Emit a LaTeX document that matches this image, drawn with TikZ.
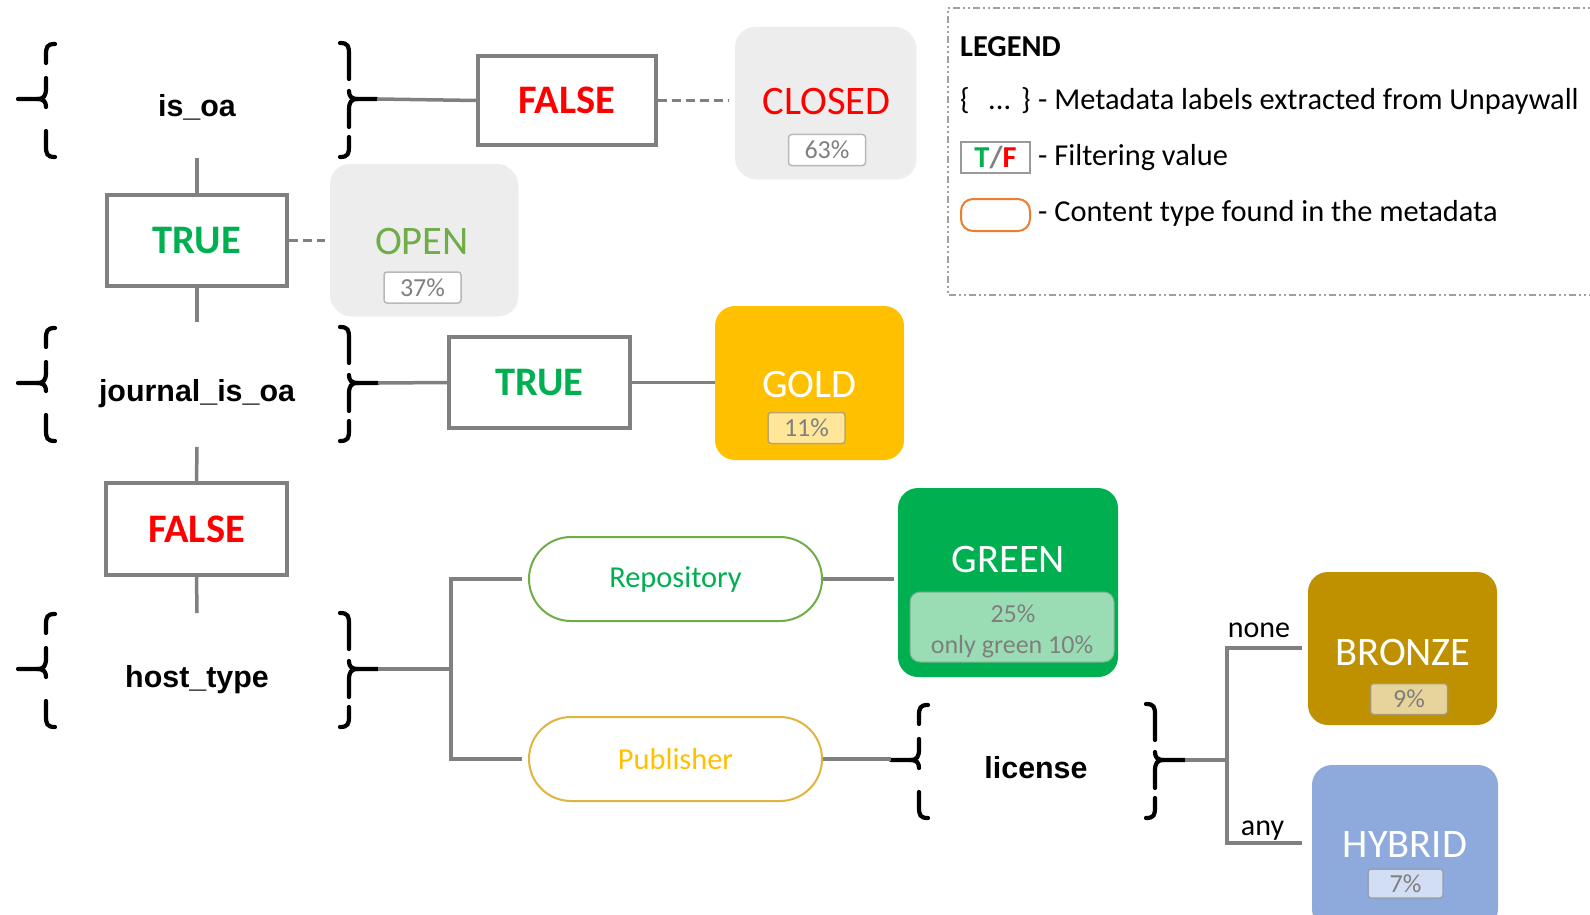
\documentclass[tikz,border=0pt]{standalone}
\usepackage{fontspec}
\setmainfont{Carlito}
\newfontfamily\arialfont{Liberation Sans}
\usetikzlibrary{shadows}
\definecolor{linegray}{HTML}{808080}
\definecolor{pctgray}{HTML}{7F7F7F}
\definecolor{boxgray}{HTML}{EDEDED}
\definecolor{tgreen}{HTML}{00B050}
\definecolor{fred}{HTML}{FF0000}
\definecolor{opengreen}{HTML}{70AD47}
\definecolor{goldc}{HTML}{FFC000}
\definecolor{goldlight}{HTML}{FFE699}
\definecolor{greenlight}{HTML}{9ADDB4}
\definecolor{bronzec}{HTML}{BF9000}
\definecolor{bronzelight}{HTML}{E6D49B}
\definecolor{hybridc}{HTML}{8EA9DB}
\definecolor{hybridlight}{HTML}{D2DEF3}
\definecolor{repoborder}{HTML}{70AD47}
\definecolor{pubborder}{HTML}{E0B440}
\definecolor{legorange}{HTML}{ED7D31}
\definecolor{leggray}{HTML}{A0A0A0}
\newcommand\fsz[1]{\fontsize{#1}{#1}\selectfont}
\newcommand\braceLft[3]{%
  \draw[bracestyle] ({#1+9},{#2-55}) .. controls ({#1+1},{#2-55}) and (#1,{#2-52}) .. (#1,{#2-44}) -- (#1,{#2-36});
  \draw[bracestyle] (#1,{#2-21}) -- (#1,{#2-11}) .. controls (#1,{#2-3}) and ({#1-2},#2) .. ({#1-9},#2) -- (#3,#2);
  \draw[bracestyle] ({#1-9},#2) .. controls ({#1-2},#2) and (#1,{#2+3}) .. (#1,{#2+8});
  \draw[bracestyle] (#1,{#2+32}) -- (#1,{#2+47}) .. controls (#1,{#2+55}) and ({#1+1},{#2+58}) .. ({#1+9},{#2+58});
}
\newcommand\braceRgt[3]{%
  \draw[bracestyle] ({#1-9},{#2-56}) .. controls ({#1-1},{#2-56}) and (#1,{#2-53}) .. (#1,{#2-45}) -- (#1,{#2-20});
  \draw[bracestyle] (#1,{#2-8}) .. controls (#1,{#2-3}) and ({#1+2},#2) .. ({#1+9},#2) -- (#3,#2);
  \draw[bracestyle] ({#1+9},#2) .. controls ({#1+2},#2) and (#1,{#2+3}) .. (#1,{#2+11}) -- (#1,{#2+28});
  \draw[bracestyle] (#1,{#2+38}) -- (#1,{#2+47}) .. controls (#1,{#2+55}) and ({#1-1},{#2+58}) .. ({#1-9},{#2+58});
}
\tikzset{
  conn/.style={draw=linegray, line width=3.5pt},
  dconn/.style={conn, dash pattern=on 9pt off 5pt},
  bracestyle/.style={draw=black, line width=4.2pt, line cap=round},
  tfbox/.style={draw=linegray, line width=3.5pt, fill=white, inner sep=0pt, font=\fsz{40.5}\bfseries},
  bigbox/.style={rounded corners=20pt, inner sep=0pt},
  greybox/.style={bigbox, fill=boxgray, drop shadow={shadow xshift=1.5pt, shadow yshift=-1.5pt, opacity=0.12}},
  bigword/.style={inner sep=0pt, font=\fsz{40.5}},
  pct/.style={fill=#1, draw=#1!72!black, line width=1.5pt, rounded corners=3pt, inner sep=0pt, minimum width=77pt, minimum height=31pt, text=pctgray, font=\fsz{26}},
  lab/.style={font=\arialfont\bfseries\fsz{30.4}, inner sep=0pt, anchor=base},
  pill/.style={line width=2pt, rounded corners=42pt, minimum width=293pt, minimum height=84pt, inner sep=0pt, font=\fsz{30.4}},
  legtxt/.style={anchor=base west, inner sep=0pt, font=\fsz{30.4}}
}
\begin{document}
\begin{tikzpicture}[x=1pt,y=-1pt]
\useasboundingbox (0,0) rectangle (1590,915);
\fill[white] (0,0) rectangle (1590,915);

% ---- metadata labels ----
\node[lab] (isoa) at (197,117) {is\_oa};
\node[lab] (jisoa) at (197,401) {journal\_is\_oa};
\node[lab] (htype) at (197,687) {host\_type};
\node[lab] (lic) at (1036,778) {license};

\braceLft{46}{99}{18}
\braceRgt{349}{99}{377}
\braceLft{46}{383}{18}
\braceRgt{349}{383}{378}
\braceLft{46}{669}{18}
\braceRgt{349}{669}{378}
\braceLft{919}{760}{891}
\braceRgt{1155}{760}{1185}

\coordinate (isoaR) at (377,99);
\coordinate (isoaD) at (197,158);
\coordinate (jrnU) at (197,322);
\coordinate (jrnR) at (378,383);
\coordinate (jrnD) at (197,447);
\coordinate (hostU) at (197,613);
\coordinate (hostR) at (378,669);
\coordinate (hsplit) at (451,669);
\coordinate (licL) at (891,759);
\coordinate (licR) at (1185,760);
\coordinate (lsplit) at (1227,760);
\coordinate (noneEnd) at (1302,648);
\coordinate (anyEnd) at (1302,843);

% ---- filter boxes ----
\node[tfbox, text=fred, minimum width=178pt, minimum height=89pt] (falseA) at (567,100.5) {FALSE};
\node[tfbox, text=tgreen, minimum width=180pt, minimum height=91pt] (trueA) at (197,240.5) {TRUE};
\node[tfbox, text=tgreen, minimum width=181pt, minimum height=91pt] (trueB) at (539.5,382.5) {TRUE};
\node[tfbox, text=fred, minimum width=181pt, minimum height=92pt] (falseB) at (196.5,529) {FALSE};

% ---- CLOSED / OPEN ----
\node[greybox, minimum width=180pt, minimum height=151pt] (closed) at (825,102.5) {};
\node[bigword, text=fred] (closedT) at (826.5,101.5) {CLOSED};
\node[pct=white] (p63) at (827,150) {63\%};

\node[greybox, minimum width=187pt, minimum height=151pt] (open) at (423.5,239.5) {};
\node[bigword, text=opengreen] (openT) at (422,241.5) {OPEN};
\node[pct=white] (p37) at (422.5,287.5) {37\%};

% ---- GOLD ----
\node[bigbox, fill=goldc, minimum width=189pt, minimum height=154pt] (gold) at (809.5,383) {};
\node[bigword, text=white] (goldT) at (809.5,384.5) {GOLD};
\node[pct=goldlight] (p11) at (806.5,428) {11\%};

% ---- Repository / Publisher ----
\node[pill, draw=repoborder, text=tgreen] (repo) at (675.5,579) {Repository};
\node[pill, draw=pubborder, text=goldc] (pub) at (675.5,759) {Publisher};

% ---- GREEN ----
\node[bigbox, fill=tgreen, minimum width=220pt, minimum height=189pt] (green) at (1008,582.5) {};
\node[bigword, text=white] (greenT) at (1008.5,559.5) {GREEN};
\node[fill=greenlight, draw=greenlight!80!black, line width=1pt, rounded corners=10pt, minimum width=204pt, minimum height=70pt, inner sep=0pt] (ginner) at (1012,627) {};
\node[inner sep=0pt, text=pctgray, font=\fsz{26}] (p25) at (1013,613.5) {25\%};
\node[inner sep=0pt, anchor=base, text=pctgray, font=\fsz{26}] (onlyg) at (1012,653) {only green 10\%};

% ---- BRONZE / HYBRID ----
\node[bigbox, fill=bronzec, minimum width=189pt, minimum height=153pt] (bronze) at (1402.5,648.5) {};
\node[bigword, text=white] (bronzeT) at (1403,652) {BRONZE};
\node[pct=bronzelight] (p9) at (1409,699) {9\%};

\node[bigbox, fill=hybridc, minimum width=186pt, minimum height=164pt] (hybrid) at (1405,847) {};
\node[bigword, text=white] (hybridT) at (1405,844.5) {HYBRID};
\node[pct=hybridlight, minimum width=75pt, minimum height=29pt] (p7) at (1405.5,883.5) {7\%};

\node[anchor=base, inner sep=0pt, font=\fsz{30}] (none) at (1259,637) {none};
\node[anchor=base, inner sep=0pt, font=\fsz{30}] (any) at (1262.5,835) {any};

% ---- connectors ----
\draw[conn] (isoaR) -- (falseA.west);
\draw[dconn, shorten >=7pt] (falseA.east) -- (falseA.east -| closed.west);
\draw[conn] (isoaD) -- (trueA.north);
\draw[dconn, shorten >=5pt] (trueA.east) -- (trueA.east -| open.west);
\draw[conn] (trueA.south) -- (jrnU);
\draw[conn] (jrnR) -- (trueB.west);
\draw[conn] (trueB.east) -- (trueB.east -| gold.west);
\draw[conn] (jrnD) -- (falseB.north);
\draw[conn] (falseB.south) -- (hostU);
\draw[conn] (hostR) -- (hsplit);
\draw[conn] (hsplit) |- ([xshift=-6pt]repo.west);
\draw[conn] (hsplit) |- ([xshift=-6pt]pub.west);
\draw[conn] (repo.east) -- ([xshift=-4pt]repo.east -| green.west);
\draw[conn] (pub.east) -- (licL);
\draw[conn] (licR) -- (lsplit);
\draw[conn] (lsplit) |- (noneEnd);
\draw[conn] (lsplit) |- (anyEnd);

% ---- legend ----
\draw[leggray, line width=2pt, dash pattern=on 7pt off 3pt on 2pt off 3pt on 2pt off 3pt] (1600,8) -- (948,8) -- (948,295) -- (1600,295);
\node[legtxt, font=\fsz{30.4}\bfseries] (legT) at (960,57) {LEGEND};
\node[legtxt] (lb1) at (960,110) {\{};
\node[legtxt] (ld1) at (988,110) {...};
\node[legtxt] (rb1) at (1021,110) {\}};
\node[legtxt] (leg1) at (1038,110) {- Metadata labels extracted from Unpaywall};
\node[draw=linegray!80, line width=1.5pt, minimum width=69pt, minimum height=31pt, inner sep=0pt, font=\fsz{30.4}\bfseries] (tf) at (995.5,157.5) {\textcolor{tgreen}{T}\textcolor{pctgray}{/}\textcolor{fred}{F}};
\node[legtxt] (leg2) at (1038,165) {- Filtering value};
\node[draw=legorange, line width=2pt, rounded corners=12pt, minimum width=69pt, minimum height=32pt, inner sep=0pt] (ct) at (995.5,215) {};
\node[legtxt] (leg3) at (1038,221) {- Content type found in the metadata};
\end{tikzpicture}
\end{document}
